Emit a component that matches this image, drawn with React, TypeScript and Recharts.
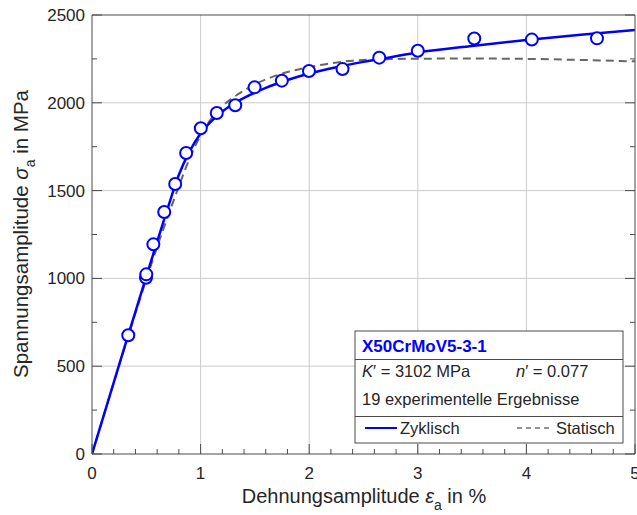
import React from 'react';
import { ComposedChart, Line, Scatter, XAxis, YAxis, CartesianGrid } from 'recharts';

// Cyclic curve (Zyklisch)
const cyclicStrain = [0, 0.3, 0.5, 0.6, 0.7, 0.8, 0.9, 1.0, 1.1, 1.2, 1.3, 1.4, 1.6, 1.8, 2.0, 2.25, 2.5, 2.75, 3.0, 3.5, 4.0, 4.5, 5.0];
const cyclicStress = [0, 610, 1010, 1210, 1405, 1590, 1725, 1825, 1895, 1950, 1993, 2028, 2085, 2130, 2167, 2203, 2233, 2260, 2287, 2324, 2357, 2387, 2414];

// Static curve (Statisch)
const staticStrain = [0, 0.3, 0.5, 0.6, 0.7, 0.8, 0.9, 1.0, 1.1, 1.2, 1.3, 1.4, 1.5, 1.65, 1.8, 2.0, 2.2, 2.4, 2.7, 3.0, 3.5, 4.0, 4.5, 5.0];
const staticStress = [0, 605, 995, 1180, 1355, 1525, 1685, 1815, 1912, 1980, 2030, 2070, 2105, 2145, 2175, 2203, 2225, 2240, 2248, 2251, 2252, 2250, 2244, 2236];

// 19 experimental results
const expStrain = [0.334, 0.497, 0.5, 0.565, 0.665, 0.766, 0.867, 1.002, 1.149, 1.319, 1.497, 1.748, 1.998, 2.307, 2.645, 3.0, 3.52, 4.05, 4.65];
const expStress = [676, 1004, 1023, 1194, 1378, 1538, 1714, 1855, 1942, 1986, 2088, 2126, 2181, 2192, 2257, 2296, 2366, 2360, 2367];

const xTicks = [0, 0.2, 0.4, 0.6, 0.8, 1, 1.2, 1.4, 1.6, 1.8, 2, 2.2, 2.4, 2.6, 2.8, 3, 3.2, 3.4, 3.6, 3.8, 4, 4.2, 4.4, 4.6, 4.8, 5];
const yTicks = [0, 250, 500, 750, 1000, 1250, 1500, 1750, 2000, 2250, 2500];
const xGrid = [1, 2, 3, 4];
const yGrid = [500, 1000, 1500, 2000];

const cyclicData = cyclicStrain.map((e, i) => ({ e, s: cyclicStress[i] }));
const staticData = staticStrain.map((e, i) => ({ e, s: staticStress[i] }));
const expData = expStrain.map((e, i) => ({ e, s: expStress[i] }));

const FONT = '"Liberation Sans", Arial, Helvetica, sans-serif';
const AXIS = '#4a4a4a';
const TEXT = '#262626';
const BLUE = '#0000ff';

const isMajorX = (v: number) => Math.abs(v - Math.round(v)) < 1e-6;
const isMajorY = (v: number) => Math.abs(v / 500 - Math.round(v / 500)) < 1e-6;

const BottomTick = (props: any) => {
  const { x, y, payload } = props;
  const v = payload.value;
  const major = isMajorX(v);
  return (
    <g>
      <line x1={x} y1={y} x2={x} y2={y - (major ? 10 : 5)} stroke={AXIS} strokeWidth={1} />
      {major && (
        <text x={x} y={y + 25} textAnchor="middle" fontSize={17} fontFamily={FONT} fill={TEXT}>
          {String(v)}
        </text>
      )}
    </g>
  );
};

const TopTick = (props: any) => {
  const { x, y, payload } = props;
  const major = isMajorX(payload.value);
  return <line x1={x} y1={y} x2={x} y2={y + (major ? 10 : 5)} stroke={AXIS} strokeWidth={1} />;
};

const LeftTick = (props: any) => {
  const { x, y, payload } = props;
  const v = payload.value;
  const major = isMajorY(v);
  return (
    <g>
      <line x1={x} y1={y} x2={x + (major ? 10 : 5)} y2={y} stroke={AXIS} strokeWidth={1} />
      {major && (
        <text x={x - 7} y={y + 6} textAnchor="end" fontSize={17} fontFamily={FONT} fill={TEXT}>
          {String(v)}
        </text>
      )}
    </g>
  );
};

const RightTick = (props: any) => {
  const { x, y, payload } = props;
  const major = isMajorY(payload.value);
  return <line x1={x} y1={y} x2={x - (major ? 10 : 5)} y2={y} stroke={AXIS} strokeWidth={1} />;
};

const Dot = (p: any) => (
  <circle cx={p.cx} cy={p.cy} r={6} fill="#ffffff" stroke={BLUE} strokeWidth={2} />
);

const LegendBox = () => (
  <svg
    width={270}
    height={114}
    style={{ position: 'absolute', left: 354, top: 330 }}
  >
    <rect x={1} y={1} width={268} height={112} fill="#ffffff" stroke={AXIS} strokeWidth={1} />
    <text x={8} y={22} fontSize={17} fontWeight="bold" fontFamily={FONT} fill={BLUE}>
      X50CrMoV5-3-1
    </text>
    <line x1={1} y1={29.5} x2={269} y2={29.5} stroke={AXIS} strokeWidth={1} />
    <text x={8} y={47} fontSize={16.5} fontFamily={FONT} fill={TEXT}>
      <tspan fontStyle="italic">K</tspan>
      <tspan>{'\u2032 = 3102 MPa'}</tspan>
    </text>
    <text x={162} y={47} fontSize={16.5} fontFamily={FONT} fill={TEXT}>
      <tspan fontStyle="italic">n</tspan>
      <tspan>{'\u2032 = 0.077'}</tspan>
    </text>
    <text x={8} y={75} fontSize={16.5} fontFamily={FONT} fill={TEXT}>
      19 experimentelle Ergebnisse
    </text>
    <line x1={1} y1={86.5} x2={269} y2={86.5} stroke={AXIS} strokeWidth={1} />
    <line x1={11} y1={98} x2={43} y2={98} stroke={BLUE} strokeWidth={2} />
    <text x={46} y={104} fontSize={16.5} fontFamily={FONT} fill={TEXT}>
      Zyklisch
    </text>
    <line x1={163} y1={98} x2={195} y2={98} stroke="#707070" strokeWidth={1.5} strokeDasharray="5 4" />
    <text x={202} y={104} fontSize={16.5} fontFamily={FONT} fill={TEXT}>
      Statisch
    </text>
  </svg>
);

const AxisTitles = () => (
  <svg
    width={637}
    height={515}
    style={{ position: 'absolute', left: 0, top: 0, pointerEvents: 'none' }}
  >
    <text x={364} y={503} textAnchor="middle" fontSize={20} fontFamily={FONT} fill={TEXT}>
      <tspan>{'Dehnungsamplitude '}</tspan>
      <tspan fontStyle="italic">{'\u03b5'}</tspan>
      <tspan fontSize={14} dy={7}>a</tspan>
      <tspan dy={-7}>{'\u00a0in %'}</tspan>
    </text>
    <text
      transform="translate(28,234) rotate(-90)"
      textAnchor="middle"
      fontSize={20.5}
      fontFamily={FONT}
      fill={TEXT}
    >
      <tspan>{'Spannungsamplitude '}</tspan>
      <tspan fontStyle="italic">{'\u03c3'}</tspan>
      <tspan fontSize={14} dy={7}>a</tspan>
      <tspan dy={-7}>{'\u00a0in MPa'}</tspan>
    </text>
  </svg>
);

export default function App() {
  return (
    <div style={{ position: 'absolute', left: 0, top: 0, width: 637, height: 515, background: '#ffffff', fontFamily: FONT }}>
      <ComposedChart width={637} height={515} margin={{ top: 14, right: 1, bottom: 0, left: 0 }}>
        <CartesianGrid
          xAxisId="x"
          yAxisId="y"
          stroke="#cbcbcb"
          strokeWidth={1}
          verticalValues={xGrid}
          horizontalValues={yGrid}
        />
        <XAxis
          xAxisId="x"
          dataKey="e"
          type="number"
          domain={[0, 5]}
          ticks={xTicks}
          interval={0}
          height={61}
          tickSize={0}
          tickMargin={0}
          tickLine={false}
          tick={<BottomTick />}
          axisLine={{ stroke: AXIS, strokeWidth: 1 }}
          allowDataOverflow
        />
        <XAxis
          xAxisId="t"
          orientation="top"
          type="number"
          domain={[0, 5]}
          ticks={xTicks}
          interval={0}
          height={1}
          tickSize={0}
          tickMargin={0}
          tickLine={false}
          tick={<TopTick />}
          axisLine={{ stroke: AXIS, strokeWidth: 1 }}
          allowDataOverflow
        />
        <YAxis
          yAxisId="y"
          type="number"
          domain={[0, 2500]}
          ticks={yTicks}
          interval={0}
          width={92}
          tickSize={0}
          tickMargin={0}
          tickLine={false}
          tick={<LeftTick />}
          axisLine={{ stroke: AXIS, strokeWidth: 1 }}
          allowDataOverflow
        />
        <YAxis
          yAxisId="r"
          orientation="right"
          type="number"
          domain={[0, 2500]}
          ticks={yTicks}
          interval={0}
          width={1}
          tickSize={0}
          tickMargin={0}
          tickLine={false}
          tick={<RightTick />}
          axisLine={{ stroke: AXIS, strokeWidth: 1 }}
          allowDataOverflow
        />
        <Line
          xAxisId="x"
          yAxisId="y"
          data={staticData}
          dataKey="s"
          type="monotone"
          stroke="#666666"
          strokeWidth={2}
          strokeDasharray="8 5"
          dot={false}
          activeDot={false}
          isAnimationActive={false}
        />
        <Line
          xAxisId="x"
          yAxisId="y"
          data={cyclicData}
          dataKey="s"
          type="monotone"
          stroke={BLUE}
          strokeWidth={2.5}
          dot={false}
          activeDot={false}
          isAnimationActive={false}
        />
        <Scatter
          xAxisId="x"
          yAxisId="y"
          data={expData}
          dataKey="s"
          shape={<Dot />}
          isAnimationActive={false}
        />
      </ComposedChart>
      <AxisTitles />
      <LegendBox />
    </div>
  );
}
